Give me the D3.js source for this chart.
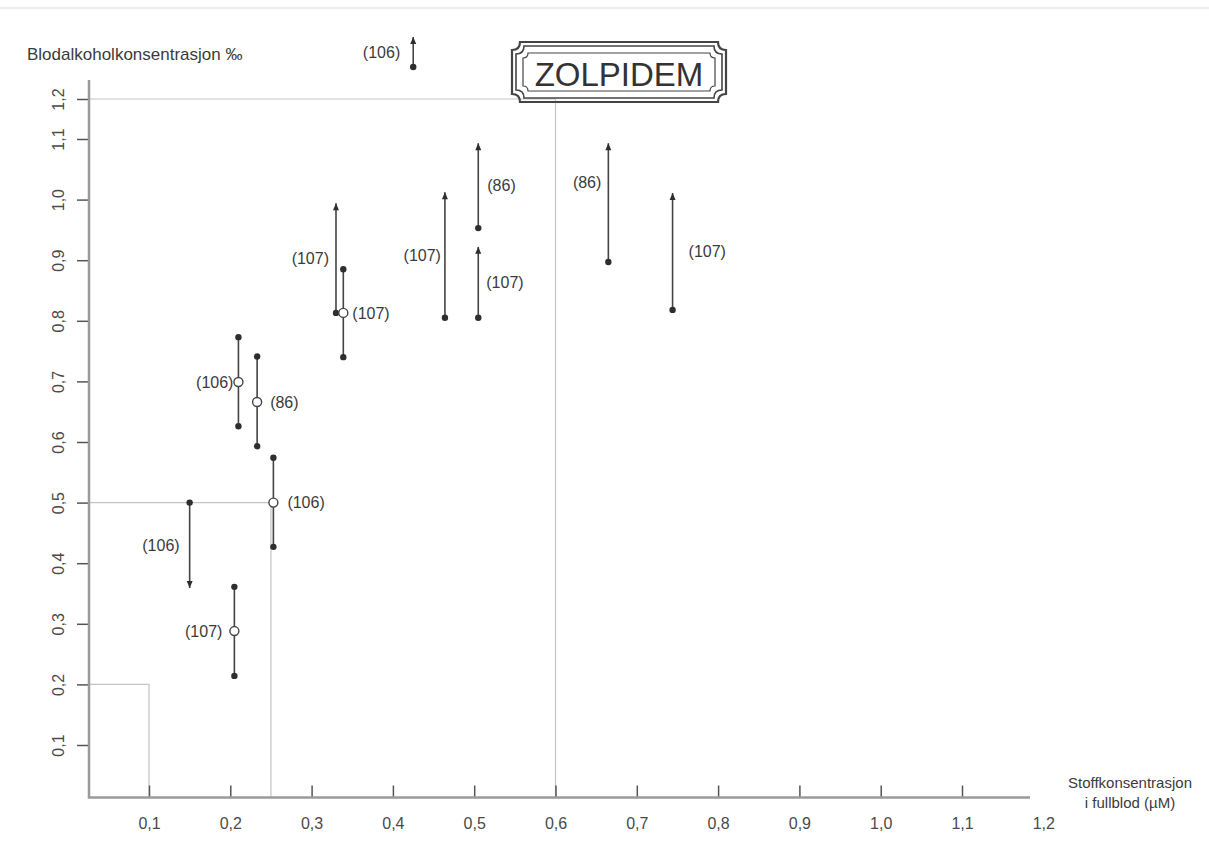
<!DOCTYPE html>
<html>
<head>
<meta charset="utf-8">
<script src="https://cdn.jsdelivr.net/npm/d3@7"></script>
<style>
  html, body { margin: 0; padding: 0; background: #fff; }
  svg { display: block; font-family: "Liberation Sans", Arial, sans-serif; }
</style>
</head>
<body>
<svg id="chart" width="1209" height="847"></svg>
<script>
// Zolpidem: blood concentration (uM) vs blood alcohol equivalent (promille)
const xTicks = [0.1, 0.2, 0.3, 0.4, 0.5, 0.6, 0.7, 0.8, 0.9, 1.0, 1.1, 1.2];
const yTicks = [0.1, 0.2, 0.3, 0.4, 0.5, 0.6, 0.7, 0.8, 0.9, 1.0, 1.1, 1.2];

const concentration = [0.425, 0.15, 0.205, 0.21, 0.233, 0.253, 0.33, 0.339, 0.464, 0.505, 0.505, 0.665, 0.744];
const bakLow  = [1.28, 0.359, 0.214, 0.626, 0.593, 0.427, 0.813, 0.740, 0.805, 0.953, 0.805, 0.897, 0.818];
const bakHigh = [1.355, 0.5, 0.361, 0.773, 0.741, 0.574, 0.994, 0.885, 1.012, 1.093, 0.922, 1.093, 1.011];
const bakMid  = [null, null, 0.288, 0.699, 0.666, 0.5, null, 0.813, null, null, null, null, null];
// end markers: 'dot' = measured limit, 'arrow' = open-ended
const lowEnd  = ['dot', 'arrow', 'dot', 'dot', 'dot', 'dot', 'dot', 'dot', 'dot', 'dot', 'dot', 'dot', 'dot'];
const highEnd = ['arrow', 'dot', 'dot', 'dot', 'dot', 'dot', 'arrow', 'dot', 'arrow', 'arrow', 'arrow', 'arrow', 'arrow'];
const refs = ['(106)', '(106)', '(107)', '(106)', '(86)', '(106)', '(107)', '(107)', '(107)', '(86)', '(107)', '(86)', '(107)'];

// legal limit steps (concentration, promille)
const limitConc = [0.1, 0.25, 0.6];
const limitBak  = [0.2, 0.5, 1.2];

// label placement next to each bar (dx from bar, dy from bar centre)
const labelDx = [-13, -10, -12, -5, 13, 14, -7, 9, -4, 9, 8, -7, 16];
const labelDy = [0, 0, 0, 0, 0, 0, 0, 0, 0, 0, 0, -20, 0];

const fmt = d => d.toFixed(1).replace('.', ',');

const svg = d3.select('#chart');
const ink = '#3b3b3b';

const x = d3.scaleLinear().domain([0, 1.2]).range([67.7, 1043.3]);
// the printed scale is squeezed between 1,1 and 1,2
const y = d3.scaleLinear().domain([0, 1.1, 1.2]).range([805.6, 139, 99]);

const axisX = 89, axisY = 797.5, axisEnd = 1030;

// faint scan edge
svg.append('line')
  .attr('x1', 0).attr('x2', 1209).attr('y1', 8).attr('y2', 8)
  .attr('stroke', '#e6e6e6').attr('stroke-width', 1.5);

// limit lines
const limits = limitConc.map((c, i) => ({ c, b: limitBak[i] }));
const lim = svg.append('g')
  .attr('fill', 'none')
  .attr('stroke', '#c4c4c4')
  .attr('stroke-width', 1.2);
lim.selectAll('path')
  .data(limits)
  .enter()
  .append('path')
  .attr('d', d => `M${axisX},${y(d.b)}H${x(d.c)}V${axisY}`);

// axes
svg.append('g')
  .attr('transform', `translate(0,${axisY})`)
  .call(d3.axisBottom(x).tickValues(xTicks).tickSize(-12).tickPadding(20).tickFormat(fmt))
  .call(g => g.select('.domain').remove())
  .call(g => g.selectAll('line').attr('stroke', '#555').attr('stroke-width', 1.5))
  // the axis line stops before 1,2: no tick mark there
  .call(g => g.selectAll('.tick').filter(d => x(d) > axisEnd).select('line').remove())
  .call(g => g.selectAll('text')
    .attr('fill', '#4a4a4a')
    .style('font-size', '16px')
    .style('font-family', '"Liberation Sans", Arial, sans-serif'));

svg.append('g')
  .attr('transform', `translate(${axisX},0)`)
  .call(d3.axisLeft(y).tickValues(yTicks).tickSize(12).tickFormat(fmt))
  .call(g => g.select('.domain').remove())
  .call(g => g.selectAll('line').attr('stroke', '#555').attr('stroke-width', 1.5))
  .call(g => g.selectAll('text')
    .attr('x', 0)
    .attr('dy', 0)
    .attr('transform', 'translate(-25,0) rotate(-90)')
    .attr('text-anchor', 'middle')
    .attr('fill', '#4a4a4a')
    .style('font-size', '16px')
    .style('font-family', '"Liberation Sans", Arial, sans-serif'));

svg.append('path')
  .attr('d', `M${axisX},80V${axisY}H${axisEnd}`)
  .attr('fill', 'none')
  .attr('stroke', '#9a9a9a')
  .attr('stroke-width', 2.5);

// axis titles
svg.append('text')
  .attr('x', 27).attr('y', 60)
  .attr('fill', ink)
  .style('font-size', '17px')
  .text('Blodalkoholkonsentrasjon ‰');

const xt = svg.append('text')
  .attr('text-anchor', 'middle')
  .attr('fill', ink)
  .style('font-size', '15px');
xt.append('tspan').attr('x', 1130).attr('y', 788).text('Stoffkonsentrasjon');
xt.append('tspan').attr('x', 1130).attr('y', 808).text('i fullblod (µM)');

// title plate
const plate = svg.append('g').attr('fill', 'none').attr('stroke', '#444');
const notch = (x0, y0, x1, y1, r) =>
  `M${x0 + r},${y0}H${x1 - r}Q${x1 - r},${y0 + r} ${x1},${y0 + r}V${y1 - r}` +
  `Q${x1 - r},${y1 - r} ${x1 - r},${y1}H${x0 + r}Q${x0 + r},${y1 - r} ${x0},${y1 - r}` +
  `V${y0 + r}Q${x0 + r},${y0 + r} ${x0 + r},${y0}Z`;
plate.append('path').attr('d', notch(512, 42, 726, 102, 8)).attr('stroke-width', 2.2);
plate.append('path').attr('d', notch(516, 46, 722, 98, 8)).attr('stroke-width', 1.6);
plate.append('path').attr('d', notch(523, 53, 715, 91, 5)).attr('stroke-width', 1.2);
svg.append('text')
  .attr('x', 619).attr('y', 86)
  .attr('text-anchor', 'middle')
  .attr('fill', '#333')
  .style('font-size', '33px')
  .text('ZOLPIDEM');

// range bars
const bars = concentration.map((c, i) => ({
  c, lo: bakLow[i], hi: bakHigh[i], mid: bakMid[i],
  loEnd: lowEnd[i], hiEnd: highEnd[i], ref: refs[i],
  dx: labelDx[i], dy: labelDy[i]
}));

const g = svg.append('g');

g.selectAll('line.bar')
  .data(bars)
  .enter()
  .append('line')
  .attr('class', 'bar')
  .attr('x1', d => x(d.c)).attr('x2', d => x(d.c))
  .attr('y1', d => y(d.lo)).attr('y2', d => y(d.hi))
  .attr('stroke', '#444')
  .attr('stroke-width', 1.6);

const ends = bars.flatMap(d => [
  { c: d.c, v: d.lo, type: d.loEnd, dir: 1 },
  { c: d.c, v: d.hi, type: d.hiEnd, dir: -1 }
]);

g.selectAll('circle.end')
  .data(ends.filter(e => e.type === 'dot'))
  .enter()
  .append('circle')
  .attr('class', 'end')
  .attr('cx', d => x(d.c)).attr('cy', d => y(d.v))
  .attr('r', 3.2)
  .attr('fill', '#2e2e2e');

g.selectAll('path.arrow')
  .data(ends.filter(e => e.type === 'arrow'))
  .enter()
  .append('path')
  .attr('class', 'arrow')
  .attr('d', d => {
    const px = x(d.c), py = y(d.v);
    return `M${px},${py}L${px - 3},${py - d.dir * 7}L${px + 3},${py - d.dir * 7}Z`;
  })
  .attr('fill', '#2e2e2e');

g.selectAll('circle.mid')
  .data(bars.filter(d => d.mid !== null))
  .enter()
  .append('circle')
  .attr('class', 'mid')
  .attr('cx', d => x(d.c)).attr('cy', d => y(d.mid))
  .attr('r', 4.5)
  .attr('fill', '#fff')
  .attr('stroke', '#444')
  .attr('stroke-width', 1.4);

g.selectAll('text.ref')
  .data(bars)
  .enter()
  .append('text')
  .attr('class', 'ref')
  .attr('x', d => x(d.c) + d.dx)
  .attr('y', d => (d.mid !== null ? y(d.mid) : (y(d.lo) + y(d.hi)) / 2) + d.dy)
  .attr('dy', '0.35em')
  .attr('text-anchor', d => d.dx < 0 ? 'end' : 'start')
  .attr('fill', ink)
  .style('font-size', '16px')
  .text(d => d.ref);
</script>
</body>
</html>
